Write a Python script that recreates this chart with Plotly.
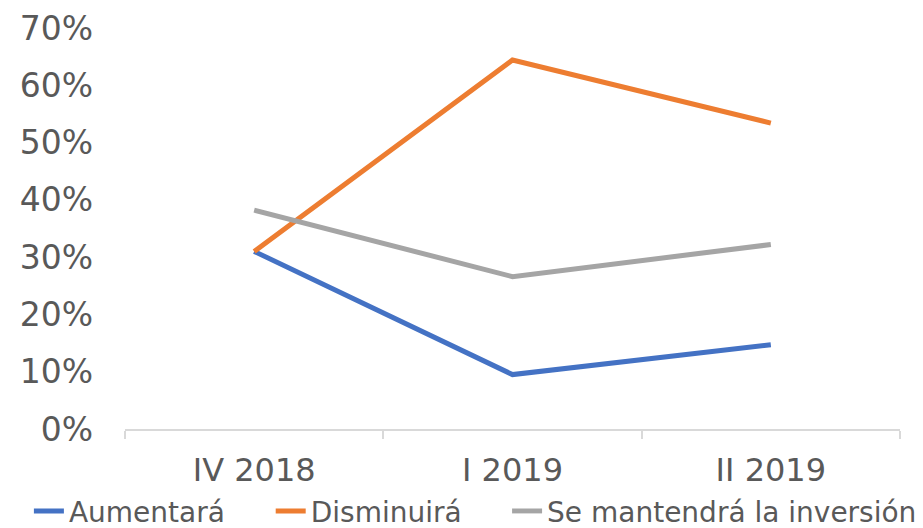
import plotly.graph_objects as go

categories = ["IV 2018", "I 2019", "II 2019"]
aumentara = [0.31, 0.095, 0.147]
disminuira = [0.31, 0.644, 0.534]
se_mantendra = [0.382, 0.266, 0.322]

series = [
    ("Aumentará", aumentara, "#4472C4", "legend", -0.124),
    ("Disminuirá", disminuira, "#ED7D31", "legend2", 0.188),
    ("Se mantendrá la inversión", se_mantendra, "#A5A5A5", "legend3", 0.493),
]

fig = go.Figure()
for name, vals, color, leg, _ in series:
    fig.add_trace(go.Scatter(
        x=categories, y=vals, name=name, mode="lines",
        line=dict(color=color, width=5), legend=leg,
    ))

font_family = "DejaVu Sans, Verdana, sans-serif"
legend_common = dict(
    orientation="h", xanchor="left", y=-0.205, yanchor="middle",
    font=dict(size=28, color="#595959"),
    itemwidth=30, bgcolor="rgba(0,0,0,0)",
)
legends = {}
for name, vals, color, leg, lx in series:
    legends[leg] = dict(legend_common, x=lx)

# page body has an 8px default margin, so the figure is shrunk by 8px
fig.update_layout(
    width=915, height=520,
    margin=dict(l=117, r=23, t=20, b=99, autoexpand=False),
    plot_bgcolor="white", paper_bgcolor="white",
    font=dict(family=font_family, color="#595959", size=30),
    showlegend=True,
    xaxis=dict(
        type="category", range=[-0.5, 2.5], automargin=False,
        showline=True, linecolor="#D9D9D9", linewidth=1.5,
        ticks="outside", tickson="boundaries", ticklen=8, tickcolor="#D9D9D9", tickwidth=1.5,
        showgrid=False, tickfont=dict(size=32, color="#595959"),
        ticklabelstandoff=12,
    ),
    yaxis=dict(
        range=[0, 0.7], dtick=0.1, tickformat=".0%", automargin=False,
        showgrid=False, zeroline=False, showline=False,
        tickfont=dict(size=33, color="#595959"),
        ticklabelstandoff=31,
    ),
    **legends,
)

fig.write_html("out.html")
